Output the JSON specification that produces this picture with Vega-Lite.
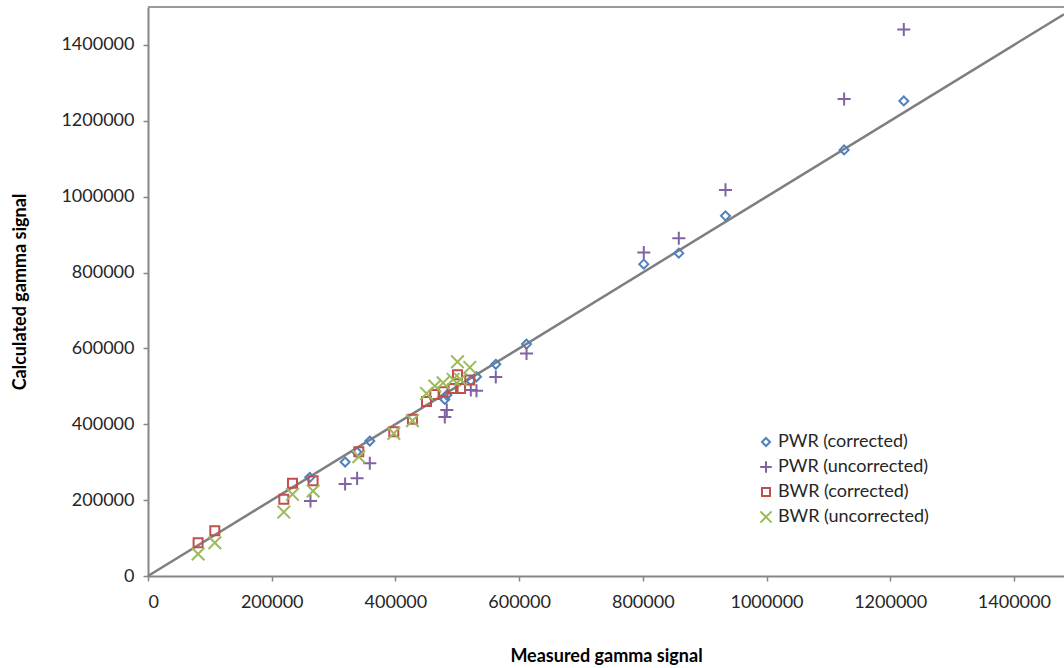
{
  "$schema": "https://vega.github.io/schema/vega-lite/v6.json",
  "width": 916,
  "height": 569,
  "autosize": {"type": "none"},
  "padding": {"left": 148, "top": 7, "right": 0, "bottom": 92},
  "background": "white",
  "config": {
    "view": {"stroke": null},
    "font": "Lato",
    "axis": {
      "domainColor": "#868686",
      "domainWidth": 2,
      "tickColor": "#868686",
      "tickWidth": 1.5,
      "tickSize": 5,
      "grid": false,
      "labelFont": "Lato",
      "labelFontSize": 18,
      "labelColor": "#262626",
      "titleFont": "Lato",
      "titleFontSize": 18,
      "titleFontWeight": "bold",
      "titleColor": "#000000"
    }
  },
  "datasets": {
    "points": [
      {"series": "PWR (corrected)", "measured": 1222000, "calculated": 1252400},
      {"series": "PWR (corrected)", "measured": 1125500, "calculated": 1123300},
      {"series": "PWR (corrected)", "measured": 933700, "calculated": 949400},
      {"series": "PWR (corrected)", "measured": 858200, "calculated": 851100},
      {"series": "PWR (corrected)", "measured": 801600, "calculated": 822100},
      {"series": "PWR (corrected)", "measured": 612000, "calculated": 611300},
      {"series": "PWR (corrected)", "measured": 562300, "calculated": 558100},
      {"series": "PWR (corrected)", "measured": 531100, "calculated": 525200},
      {"series": "PWR (corrected)", "measured": 521900, "calculated": 515000},
      {"series": "PWR (corrected)", "measured": 479900, "calculated": 465600},
      {"series": "PWR (corrected)", "measured": 483100, "calculated": 477000},
      {"series": "PWR (corrected)", "measured": 358600, "calculated": 355700},
      {"series": "PWR (corrected)", "measured": 337600, "calculated": 326700},
      {"series": "PWR (corrected)", "measured": 318700, "calculated": 300400},
      {"series": "PWR (corrected)", "measured": 261600, "calculated": 260100},
      {"series": "PWR (uncorrected)", "measured": 1222000, "calculated": 1440600},
      {"series": "PWR (uncorrected)", "measured": 1125500, "calculated": 1257700},
      {"series": "PWR (uncorrected)", "measured": 933700, "calculated": 1017900},
      {"series": "PWR (uncorrected)", "measured": 858200, "calculated": 890600},
      {"series": "PWR (uncorrected)", "measured": 801600, "calculated": 853000},
      {"series": "PWR (uncorrected)", "measured": 612000, "calculated": 586800},
      {"series": "PWR (uncorrected)", "measured": 562300, "calculated": 524400},
      {"series": "PWR (uncorrected)", "measured": 531100, "calculated": 488300},
      {"series": "PWR (uncorrected)", "measured": 521900, "calculated": 490100},
      {"series": "PWR (uncorrected)", "measured": 483100, "calculated": 437400},
      {"series": "PWR (uncorrected)", "measured": 479900, "calculated": 419000},
      {"series": "PWR (uncorrected)", "measured": 358600, "calculated": 297000},
      {"series": "PWR (uncorrected)", "measured": 338100, "calculated": 257400},
      {"series": "PWR (uncorrected)", "measured": 318700, "calculated": 242400},
      {"series": "PWR (uncorrected)", "measured": 262700, "calculated": 197600},
      {"series": "BWR (corrected)", "measured": 81000, "calculated": 87700},
      {"series": "BWR (corrected)", "measured": 108000, "calculated": 119400},
      {"series": "BWR (corrected)", "measured": 219600, "calculated": 202100},
      {"series": "BWR (corrected)", "measured": 233600, "calculated": 244300},
      {"series": "BWR (corrected)", "measured": 266900, "calculated": 251100},
      {"series": "BWR (corrected)", "measured": 340800, "calculated": 327500},
      {"series": "BWR (corrected)", "measured": 397400, "calculated": 380200},
      {"series": "BWR (corrected)", "measured": 427600, "calculated": 412900},
      {"series": "BWR (corrected)", "measured": 450300, "calculated": 460300},
      {"series": "BWR (corrected)", "measured": 463700, "calculated": 478800},
      {"series": "BWR (corrected)", "measured": 477100, "calculated": 485600},
      {"series": "BWR (corrected)", "measured": 493300, "calculated": 494600},
      {"series": "BWR (corrected)", "measured": 505300, "calculated": 494600},
      {"series": "BWR (corrected)", "measured": 500400, "calculated": 530400},
      {"series": "BWR (corrected)", "measured": 520300, "calculated": 516500},
      {"series": "BWR (uncorrected)", "measured": 81000, "calculated": 58000},
      {"series": "BWR (uncorrected)", "measured": 108000, "calculated": 87700},
      {"series": "BWR (uncorrected)", "measured": 219600, "calculated": 168600},
      {"series": "BWR (uncorrected)", "measured": 233600, "calculated": 215300},
      {"series": "BWR (uncorrected)", "measured": 266900, "calculated": 224000},
      {"series": "BWR (uncorrected)", "measured": 340800, "calculated": 314400},
      {"series": "BWR (uncorrected)", "measured": 397400, "calculated": 376000},
      {"series": "BWR (uncorrected)", "measured": 427600, "calculated": 409200},
      {"series": "BWR (uncorrected)", "measured": 450300, "calculated": 481400},
      {"series": "BWR (uncorrected)", "measured": 463700, "calculated": 500700},
      {"series": "BWR (uncorrected)", "measured": 477100, "calculated": 509300},
      {"series": "BWR (uncorrected)", "measured": 493300, "calculated": 518300},
      {"series": "BWR (uncorrected)", "measured": 505300, "calculated": 518300},
      {"series": "BWR (uncorrected)", "measured": 500400, "calculated": 564700},
      {"series": "BWR (uncorrected)", "measured": 520300, "calculated": 549900}
    ],
    "diag": [
      {"measured": 0, "calculated": 0},
      {"measured": 1481000, "calculated": 1481000}
    ],
    "frame": [{"top": 1500000}]
  },
  "layer": [
    {
      "data": {"name": "frame"},
      "mark": {"type": "rule", "color": "#9a9a9a", "strokeWidth": 2},
      "encoding": {
        "y": {"field": "top", "type": "quantitative", "scale": {"domain": [0, 1500000], "nice": false}}
      }
    },
    {
      "data": {"name": "diag"},
      "mark": {"type": "line", "color": "#7f7f7f", "strokeWidth": 2.5},
      "encoding": {
        "x": {"field": "measured", "type": "quantitative"},
        "y": {"field": "calculated", "type": "quantitative"}
      }
    },
    {
      "data": {"name": "points"},
      "mark": {"type": "point", "filled": false, "strokeWidth": 2, "size": 81, "opacity": 1},
      "encoding": {
        "x": {
          "field": "measured", "type": "quantitative",
          "title": "Measured gamma signal",
          "scale": {"domain": [0, 1481000], "nice": false, "zero": true},
          "axis": {"values": [0, 200000, 400000, 600000, 800000, 1000000, 1200000, 1400000], "format": "d", "labelPadding": 12, "titlePadding": 36}
        },
        "y": {
          "field": "calculated", "type": "quantitative",
          "title": "Calculated gamma signal",
          "scale": {"domain": [0, 1500000], "nice": false},
          "axis": {"values": [0, 200000, 400000, 600000, 800000, 1000000, 1200000, 1400000], "format": "d", "labelPadding": 9, "titlePadding": 31}
        },
        "color": {
          "field": "series", "type": "nominal",
          "scale": {
            "domain": ["PWR (corrected)", "PWR (uncorrected)", "BWR (corrected)", "BWR (uncorrected)"],
            "range": ["#4F81BD", "#8064A2", "#C0504D", "#9BBB59"]
          },
          "legend": {
            "title": null,
            "orient": "none",
            "legendX": 609,
            "legendY": 426,
            "labelFontSize": 18,
            "labelFont": "Lato",
            "labelColor": "#262626",
            "symbolSize": 64,
            "symbolStrokeWidth": 2,
            "rowPadding": 6,
            "labelOffset": 3
          }
        },
        "shape": {
          "field": "series", "type": "nominal",
          "scale": {
            "domain": ["PWR (corrected)", "PWR (uncorrected)", "BWR (corrected)", "BWR (uncorrected)"],
            "range": ["M0,-1L1,0L0,1L-1,0Z", "M-1.45,0H1.45M0,-1.45V1.45", "M-1,-1H1V1H-1Z", "M-1.4,-1.4L1.4,1.4M-1.4,1.4L1.4,-1.4"]
          }
        }
      }
    }
  ]
}
